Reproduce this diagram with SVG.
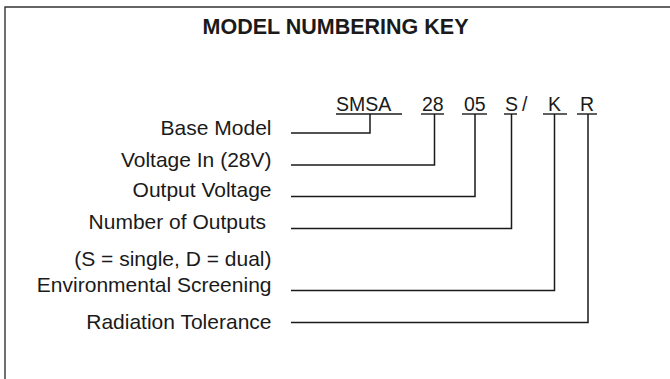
<svg xmlns="http://www.w3.org/2000/svg" width="670" height="379" viewBox="0 0 670 379">
<style>
text{font-family:"Liberation Sans",Arial,Helvetica,sans-serif;fill:#1a1a1a}
.t{font-size:21.5px;font-weight:bold;text-anchor:middle}
.lbl{font-size:21px;text-anchor:end}
.code{font-size:19.5px}
.ul{stroke:#1a1a1a;stroke-width:1.4;fill:none}
.con{stroke:#1a1a1a;stroke-width:1.5;fill:none}
.frame{stroke:#333;stroke-width:1.4;fill:none}
</style>
<rect width="670" height="379" fill="#fff"/>
<path class="frame" d="M5,379 V7 H670"/>
<g id="title"><text class="t" x="335.5" y="34">MODEL NUMBERING KEY</text></g>
<g id="code">
<g id="c-smsa"><text class="code" x="336" y="111">SMSA</text><line class="ul" x1="336" y1="114" x2="402" y2="114"/></g>
<g id="c-28"><text class="code" x="422" y="111">28</text><line class="ul" x1="421" y1="114" x2="444" y2="114"/></g>
<g id="c-05"><text class="code" x="464" y="111">05</text><line class="ul" x1="462" y1="114" x2="487" y2="114"/></g>
<g id="c-s"><text class="code" x="505" y="111">S</text><line class="ul" x1="504" y1="114" x2="517" y2="114"/></g>
<g id="c-slash"><text class="code" x="522" y="111">/</text></g>
<g id="c-k"><text class="code" x="548" y="111">K</text><line class="ul" x1="543" y1="114" x2="567" y2="114"/></g>
<g id="c-r"><text class="code" x="580" y="111">R</text><line class="ul" x1="577" y1="114" x2="597" y2="114"/></g>
</g>
<g id="labels">
<g id="l-base"><text class="lbl" x="271.5" y="135">Base Model</text></g>
<g id="l-vin"><text class="lbl" x="271.5" y="167">Voltage In (28V)</text></g>
<g id="l-vout"><text class="lbl" x="271.5" y="197">Output Voltage</text></g>
<g id="l-num"><text class="lbl" x="266" y="229">Number of Outputs</text></g>
<g id="l-sd"><text class="lbl" x="271.5" y="266">(S = single, D = dual)</text></g>
<g id="l-env"><text class="lbl" x="271.5" y="292">Environmental Screening</text></g>
<g id="l-rad"><text class="lbl" x="271.5" y="329">Radiation Tolerance</text></g>
</g>
<g id="connectors">
<path class="con" d="M291,133 H370 V114"/>
<path class="con" d="M291,165 H434.5 V114"/>
<path class="con" d="M291,196.5 H475 V114"/>
<path class="con" d="M291,228.5 H511.5 V114"/>
<path class="con" d="M291,290.5 H554.5 V114"/>
<path class="con" d="M291,322.5 H588 V114"/>
</g>
</svg>
